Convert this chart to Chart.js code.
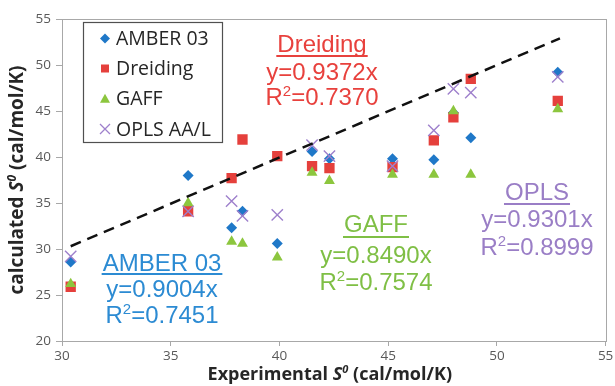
<!DOCTYPE html>
<html><head><meta charset="utf-8">
<script src="https://cdn.jsdelivr.net/npm/chart.js@4/dist/chart.umd.min.js"></script>
<style>html,body{margin:0;padding:0;background:#fff;}#wrap{width:615px;height:386px;}</style>
</head><body><div id="wrap"><canvas id="c" width="615" height="386"></canvas></div>
<script>
// ---- data ----
const experimental = [30.4, 35.8, 37.8, 38.3, 39.9, 41.5, 42.3, 45.2, 47.1, 48.0, 48.8, 52.8];
const amber03  = [28.6, 38.0, 32.3, 34.1, 30.6, 40.6, 39.8, 39.8, 39.7, 44.8, 42.1, 49.2];
const dreiding = [25.9, 34.1, 37.7, 41.9, 40.1, 39.0, 38.8, 38.9, 41.8, 44.3, 48.5, 46.1];
const gaff     = [26.2, 35.0, 30.8, 30.6, 29.1, 38.3, 37.4, 38.1, 38.1, 45.0, 38.1, 45.2];
const oplsAAL  = [29.2, 34.1, 35.2, 33.6, 33.7, 41.3, 40.1, 39.0, 42.9, 47.4, 47.0, 48.7];
const idealLineX = [30.4, 52.9];
const idealLineY = [30.3, 52.9];
const seriesNames = ['AMBER 03', 'Dreiding', 'GAFF', 'OPLS AA/L'];
const fitTitles = ['AMBER 03', 'Dreiding', 'GAFF', 'OPLS'];
const fitEquations = ['y=0.9004x', 'y=0.9372x', 'y=0.8490x', 'y=0.9301x'];
const fitR2 = ['0.7451', '0.7370', '0.7574', '0.8999'];
const xAxisMin = 30, xAxisMax = 55, yAxisMin = 20, yAxisMax = 55, axisStep = 5;

const pts = (ys) => experimental.map((x, i) => ({x: x, y: ys[i]}));

const colors = {
  amber: '#1f78c8', dreiding: '#e5403c', gaff: '#8cc63e', opls: '#9e80cc'
};
const textColors = ['#2c8bd3', '#e8413d', '#7fbf45', '#9a7ec6'];

// annotation layout (pixels)
const fitLayout = [
  {cx: 162, base: [270.7, 296.7, 323], ul: 274},
  {cx: 322, base: [51.7, 80, 105], ul: 56},
  {cx: 376, base: [231.7, 263.3, 290], ul: 237},
  {cx: 537, base: [200, 226.7, 255], ul: 204}
];

const annoFont = '"Liberation Sans", Arial, sans-serif';

const overlayPlugin = {
  id: 'overlay',
  beforeDatasetsDraw(chart) {
    const ctx = chart.ctx, a = chart.chartArea;
    ctx.save();
    ctx.strokeStyle = '#a8a8a8';
    ctx.lineWidth = 1;
    ctx.strokeRect(Math.round(a.left) + 0.5, Math.round(a.top) + 0.5, Math.round(a.right - a.left), Math.round(a.bottom - a.top));
    ctx.restore();
  },
  afterDraw(chart) {
    const ctx = chart.ctx, a = chart.chartArea;
    ctx.save();
    // ---- fit annotations ----
    for (let k = 0; k < 4; k++) {
      const L = fitLayout[k];
      ctx.fillStyle = textColors[k];
      ctx.strokeStyle = textColors[k];
      ctx.textBaseline = 'alphabetic';
      ctx.textAlign = 'left';
      ctx.font = '24px ' + annoFont;
      // title
      let w = ctx.measureText(fitTitles[k]).width;
      ctx.fillText(fitTitles[k], L.cx - w / 2, L.base[0]);
      ctx.fillRect(L.cx - w / 2 - 1, L.ul - 1, w + 2, 2);
      // equation
      w = ctx.measureText(fitEquations[k]).width;
      ctx.fillText(fitEquations[k], L.cx - w / 2, L.base[1]);
      // R^2
      ctx.font = '24px ' + annoFont;
      const wR = ctx.measureText('R').width;
      const rest = '=' + fitR2[k];
      const wRest = ctx.measureText(rest).width;
      ctx.font = '15px ' + annoFont;
      const w2 = ctx.measureText('2').width;
      const tot = wR + w2 + wRest;
      let x0 = L.cx - tot / 2;
      ctx.font = '24px ' + annoFont;
      ctx.fillText('R', x0, L.base[2]);
      ctx.font = '15px ' + annoFont;
      ctx.fillText('2', x0 + wR, L.base[2] - 9);
      ctx.font = '24px ' + annoFont;
      ctx.fillText(rest, x0 + wR + w2, L.base[2]);
    }
    // ---- legend ----
    const lx = 83, ly = 22, lw = 139, lh = 120;
    ctx.fillStyle = '#ffffff';
    ctx.fillRect(lx, ly, lw, lh);
    ctx.strokeStyle = '#505050';
    ctx.lineWidth = 1.2;
    ctx.strokeRect(lx + 0.5, ly + 0.5, lw, lh);
    const rows = [38.5, 68.5, 98.8, 129];
    const mx = 105;
    ctx.font = '19.5px "Open Sans", sans-serif';
    ctx.textBaseline = 'middle';
    ctx.textAlign = 'left';
    for (let k = 0; k < 4; k++) {
      const y = rows[k];
      ctx.save();
      if (k === 0) {
        ctx.fillStyle = colors.amber;
        ctx.beginPath(); ctx.moveTo(mx, y - 5); ctx.lineTo(mx + 5, y); ctx.lineTo(mx, y + 5); ctx.lineTo(mx - 5, y); ctx.closePath(); ctx.fill();
      } else if (k === 1) {
        ctx.fillStyle = colors.dreiding;
        ctx.fillRect(mx - 4, y - 4, 8, 8);
      } else if (k === 2) {
        ctx.fillStyle = colors.gaff;
        ctx.beginPath(); ctx.moveTo(mx, y - 5); ctx.lineTo(mx + 5, y + 4); ctx.lineTo(mx - 5, y + 4); ctx.closePath(); ctx.fill();
      } else {
        ctx.strokeStyle = colors.opls; ctx.lineWidth = 1.3;
        ctx.beginPath(); ctx.moveTo(mx - 5, y - 5); ctx.lineTo(mx + 5, y + 5); ctx.moveTo(mx + 5, y - 5); ctx.lineTo(mx - 5, y + 5); ctx.stroke();
      }
      ctx.restore();
      ctx.fillStyle = '#262626';
      ctx.fillText(seriesNames[k], 116, y + 1);
    }
    // ---- axis titles ----
    const drawTitle = (cx, base, size) => {
      const parts = [
        {t: 'Experimental ', f: 'bold ' + size + 'px "Open Sans", sans-serif', dy: 0},
        {t: 'S', f: 'italic bold ' + size + 'px "Open Sans", sans-serif', dy: 0},
        {t: '0', f: 'italic bold ' + Math.round(size * 0.62) + 'px "Open Sans", sans-serif', dy: -size * 0.38},
        {t: ' (cal/mol/K)', f: 'bold ' + size + 'px "Open Sans", sans-serif', dy: 0}
      ];
      return parts;
    };
    const drawParts = (parts, cx, base) => {
      let tot = 0;
      parts.forEach(p => { ctx.font = p.f; p.w = ctx.measureText(p.t).width; tot += p.w; });
      let x = cx - tot / 2;
      parts.forEach(p => { ctx.font = p.f; ctx.fillText(p.t, x, base + p.dy); x += p.w; });
    };
    ctx.fillStyle = '#262626';
    ctx.textBaseline = 'alphabetic';
    ctx.textAlign = 'left';
    const xParts = drawTitle(0, 0, 18);
    drawParts(xParts, (a.left + a.right) / 2 - 4, 380);
    const yParts = drawTitle(0, 0, 19);
    yParts[0].t = 'calculated ';
    ctx.save();
    ctx.translate(23, (a.top + a.bottom) / 2);
    ctx.rotate(-Math.PI / 2);
    drawParts(yParts, 0, 0);
    ctx.restore();
    ctx.restore();
  }
};

const tickFont = {family: '"Open Sans", sans-serif', size: 13.5};

new Chart(document.getElementById('c'), {
  type: 'scatter',
  data: {
    datasets: [
      {label: 'ideal', type: 'line', data: idealLineX.map((x, i) => ({x: x, y: idealLineY[i]})),
       borderColor: '#111', borderWidth: 2.5, borderDash: [11, 7], pointRadius: 0, fill: false, order: 0},
      {label: seriesNames[0], data: pts(amber03), pointStyle: 'rectRot', pointRadius: 5.5,
       backgroundColor: colors.amber, borderColor: colors.amber, borderWidth: 0, order: 4},
      {label: seriesNames[1], data: pts(dreiding), pointStyle: 'rect', pointRadius: 7.3,
       backgroundColor: colors.dreiding, borderColor: colors.dreiding, borderWidth: 0, order: 3},
      {label: seriesNames[2], data: pts(gaff), pointStyle: 'triangle', pointRadius: 6.3,
       backgroundColor: colors.gaff, borderColor: colors.gaff, borderWidth: 0, order: 2},
      {label: seriesNames[3], data: pts(oplsAAL), pointStyle: 'crossRot', pointRadius: 8,
       backgroundColor: colors.opls, borderColor: colors.opls, borderWidth: 1.4, order: 1}
    ]
  },
  options: {
    responsive: false,
    animation: false,
    devicePixelRatio: 1,
    layout: {padding: {left: 0, right: 7, top: 19, bottom: 0}},
    plugins: {legend: {display: false}, tooltip: {enabled: false}},
    scales: {
      x: {
        type: 'linear', min: xAxisMin, max: xAxisMax,
        ticks: {stepSize: axisStep, font: tickFont, color: '#595959', padding: 2, maxRotation: 0},
        grid: {display: true, drawOnChartArea: false, drawTicks: true, tickLength: 5, color: '#a8a8a8'},
        border: {display: false},
        afterFit(s) { s.height = 45; s.paddingLeft = 0; s.paddingRight = 0; }
      },
      y: {
        type: 'linear', min: yAxisMin, max: yAxisMax,
        ticks: {stepSize: axisStep, font: tickFont, color: '#595959', padding: 5},
        grid: {display: true, drawOnChartArea: false, drawTicks: true, tickLength: 6, color: '#a8a8a8'},
        border: {display: false},
        afterFit(s) { s.width = 62; s.paddingTop = 0; s.paddingBottom = 0; }
      }
    }
  },
  plugins: [overlayPlugin]
});
</script>
</body></html>
